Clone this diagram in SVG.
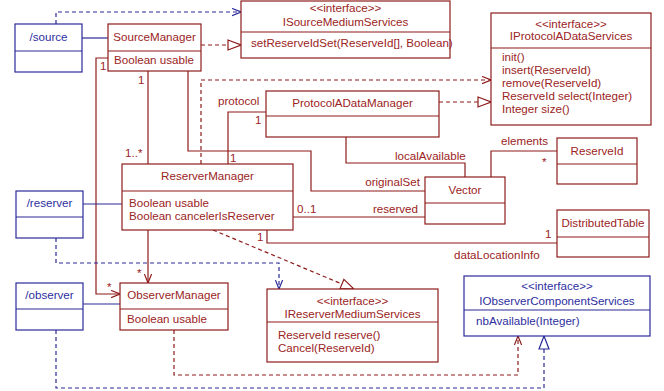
<svg xmlns="http://www.w3.org/2000/svg" width="664" height="391" viewBox="0 0 664 391">
<style>
text{font-family:"Liberation Sans",Arial,Helvetica,sans-serif;font-size:11.6px}
.r{fill:#9b2323}
.b{fill:#2e2ea0}
.c{text-anchor:middle}
.nr{fill:#fff;stroke:#8e1b1b;stroke-width:1.2}
.nb{fill:#fff;stroke:#2a2a98;stroke-width:1.2}
.lr{fill:none;stroke:#8e1b1b;stroke-width:1.2}
.lb{fill:none;stroke:#2a2a98;stroke-width:1.2}
.dr{fill:none;stroke:#8e1b1b;stroke-width:1.2;stroke-dasharray:4,3}
.db{fill:none;stroke:#2a2a98;stroke-width:1.2;stroke-dasharray:4,3}
</style>
<defs>
<marker id="openR" viewBox="0 0 10 10" refX="10" refY="5" markerWidth="9" markerHeight="9" markerUnits="userSpaceOnUse" orient="auto"><path d="M0,1 L10,5 L0,9" fill="none" stroke="#8e1b1b" stroke-width="1.3"/></marker>
<marker id="openB" viewBox="0 0 10 10" refX="10" refY="5" markerWidth="9" markerHeight="9" markerUnits="userSpaceOnUse" orient="auto"><path d="M0,1 L10,5 L0,9" fill="none" stroke="#2a2a98" stroke-width="1.3"/></marker>
<marker id="triR" viewBox="0 0 14 12" refX="14" refY="6" markerWidth="14" markerHeight="12" markerUnits="userSpaceOnUse" orient="auto"><path d="M1,1 L14,6 L1,11 Z" fill="#fff" stroke="#8e1b1b" stroke-width="1.2"/></marker>
<marker id="triB" viewBox="0 0 14 12" refX="14" refY="6" markerWidth="14" markerHeight="12" markerUnits="userSpaceOnUse" orient="auto"><path d="M1,1 L14,6 L1,11 Z" fill="#fff" stroke="#2a2a98" stroke-width="1.2"/></marker>
</defs>
<rect width="664" height="391" fill="#fff"/>

<g id="connectors">
<path class="lb" d="M82,38 H108"/>
<path class="db" d="M56,24 V12 H241" marker-end="url(#openB)"/>
<path class="dr" d="M201,45 H241" marker-end="url(#triR)"/>
<path class="lr" d="M108,58 H96 V294 H120" marker-end="url(#openR)"/>
<path class="lr" d="M148,71 V164"/>
<path class="lr" d="M148,230 V283" marker-end="url(#openR)"/>
<path class="lr" d="M188,71 V151 H311 V191 H425"/>
<path class="lr" d="M228,164 V112 H266"/>
<path class="dr" d="M201,164 V80 H491" marker-end="url(#openR)"/>
<path class="dr" d="M439,102 H491" marker-end="url(#triR)"/>
<path class="lr" d="M346,137 V163 H465 V177"/>
<path class="lr" d="M293,217 H425"/>
<path class="lr" d="M491,177 V151 H557"/>
<path class="lr" d="M267,230 V243 H557"/>
<path class="dr" d="M213,230 L354,289" marker-end="url(#triR)"/>
<path class="lb" d="M83,204 H122"/>
<path class="db" d="M56,238 V263 H279 V289" marker-end="url(#openB)"/>
<path class="lb" d="M83,304 H120"/>
<path class="dr" d="M174,330 V375 H518 V336" marker-end="url(#openR)"/>
<path class="db" d="M56,330 V388 H544 V336" marker-end="url(#triB)"/>
<text class="r" x="100" y="70">1</text>
<text class="r" x="138" y="84">1</text>
<text class="r" x="125" y="157">1..*</text>
<text class="r" x="137" y="277">*</text>
<text class="r" x="107" y="291">*</text>
<text class="r" x="218" y="105">protocol</text>
<text class="r" x="255" y="124">1</text>
<text class="r" x="230" y="162">1</text>
<text class="r" x="395" y="160">localAvailable</text>
<text class="r" x="420" y="186" text-anchor="end">originalSet</text>
<text class="r" x="297" y="213">0..1</text>
<text class="r" x="418" y="213" text-anchor="end">reserved</text>
<text class="r" x="501" y="145">elements</text>
<text class="r" x="542" y="166">*</text>
<text class="r" x="257" y="241">1</text>
<text class="r" x="545" y="238">1</text>
<text class="r" x="454" y="259">dataLocationInfo</text>
</g>

<g id="source">
<rect class="nb" x="15" y="24" width="67" height="48"/>
<path class="lb" d="M15,51 H82"/>
<text class="b c" x="48.5" y="41">/source</text>
</g>

<g id="SourceManager">
<rect class="nr" x="108" y="24" width="93" height="47"/>
<path class="lr" d="M108,51 H201"/>
<text class="r c" x="154.5" y="41">SourceManager</text>
<text class="r" x="114" y="64">Boolean usable</text>
</g>

<g id="ISourceMediumServices">
<rect class="nr" x="241" y="1" width="209" height="57"/>
<path class="lr" d="M241,32 H450"/>
<text class="r c" x="345.5" y="12">&lt;&lt;interface&gt;&gt;</text>
<text class="r c" x="345.5" y="26">ISourceMediumServices</text>
<text class="r" x="251" y="47">setReserveIdSet(ReserveId[], Boolean)</text>
</g>

<g id="IProtocolADataServices">
<rect class="nr" x="491" y="13" width="160" height="112"/>
<path class="lr" d="M491,48 H651"/>
<text class="r c" x="571" y="28">&lt;&lt;interface&gt;&gt;</text>
<text class="r c" x="571" y="40">IProtocolADataServices</text>
<text class="r" x="502" y="61">init()</text>
<text class="r" x="502" y="74">insert(ReserveId)</text>
<text class="r" x="502" y="87">remove(ReserveId)</text>
<text class="r" x="502" y="100">ReserveId select(Integer)</text>
<text class="r" x="502" y="113">Integer size()</text>
</g>

<g id="ProtocolADataManager">
<rect class="nr" x="266" y="91" width="173" height="46"/>
<path class="lr" d="M266,116 H439"/>
<text class="r c" x="352.5" y="107">ProtocolADataManager</text>
</g>

<g id="ReserverManager">
<rect class="nr" x="122" y="164" width="171" height="66"/>
<path class="lr" d="M122,191 H293"/>
<text class="r c" x="207.5" y="180">ReserverManager</text>
<text class="r" x="129" y="207">Boolean usable</text>
<text class="r" x="129" y="220">Boolean cancelerIsReserver</text>
</g>

<g id="Vector">
<rect class="nr" x="425" y="177" width="80" height="47"/>
<path class="lr" d="M425,203 H505"/>
<text class="r c" x="465" y="194">Vector</text>
</g>

<g id="ReserveId">
<rect class="nr" x="557" y="138" width="80" height="46"/>
<path class="lr" d="M557,164 H637"/>
<text class="r c" x="597" y="155">ReserveId</text>
</g>

<g id="DistributedTable">
<rect class="nr" x="557" y="210" width="92" height="47"/>
<path class="lr" d="M557,237 H649"/>
<text class="r c" x="603" y="227">DistributedTable</text>
</g>

<g id="reserver">
<rect class="nb" x="16" y="191" width="67" height="47"/>
<path class="lb" d="M16,217 H83"/>
<text class="b c" x="49.5" y="207">/reserver</text>
</g>

<g id="observer">
<rect class="nb" x="16" y="283" width="67" height="47"/>
<path class="lb" d="M16,309 H83"/>
<text class="b c" x="49.5" y="299">/observer</text>
</g>

<g id="ObserverManager">
<rect class="nr" x="120" y="283" width="108" height="47"/>
<path class="lr" d="M120,309 H228"/>
<text class="r c" x="174" y="299">ObserverManager</text>
<text class="r" x="127" y="323">Boolean usable</text>
</g>

<g id="IReserverMediumServices">
<rect class="nr" x="267" y="289" width="171" height="73"/>
<path class="lr" d="M267,322 H438"/>
<text class="r c" x="352.5" y="305">&lt;&lt;interface&gt;&gt;</text>
<text class="r c" x="352.5" y="318">IReserverMediumServices</text>
<text class="r" x="278" y="339">ReserveId reserve()</text>
<text class="r" x="278" y="352">Cancel(ReserveId)</text>
</g>

<g id="IObserverComponentServices">
<rect class="nb" x="464" y="276" width="186" height="60"/>
<path class="lb" d="M464,310 H650"/>
<text class="b c" x="557" y="290">&lt;&lt;interface&gt;&gt;</text>
<text class="b c" x="557" y="305">IObserverComponentServices</text>
<text class="b" x="476" y="325">nbAvailable(Integer)</text>
</g>
</svg>
